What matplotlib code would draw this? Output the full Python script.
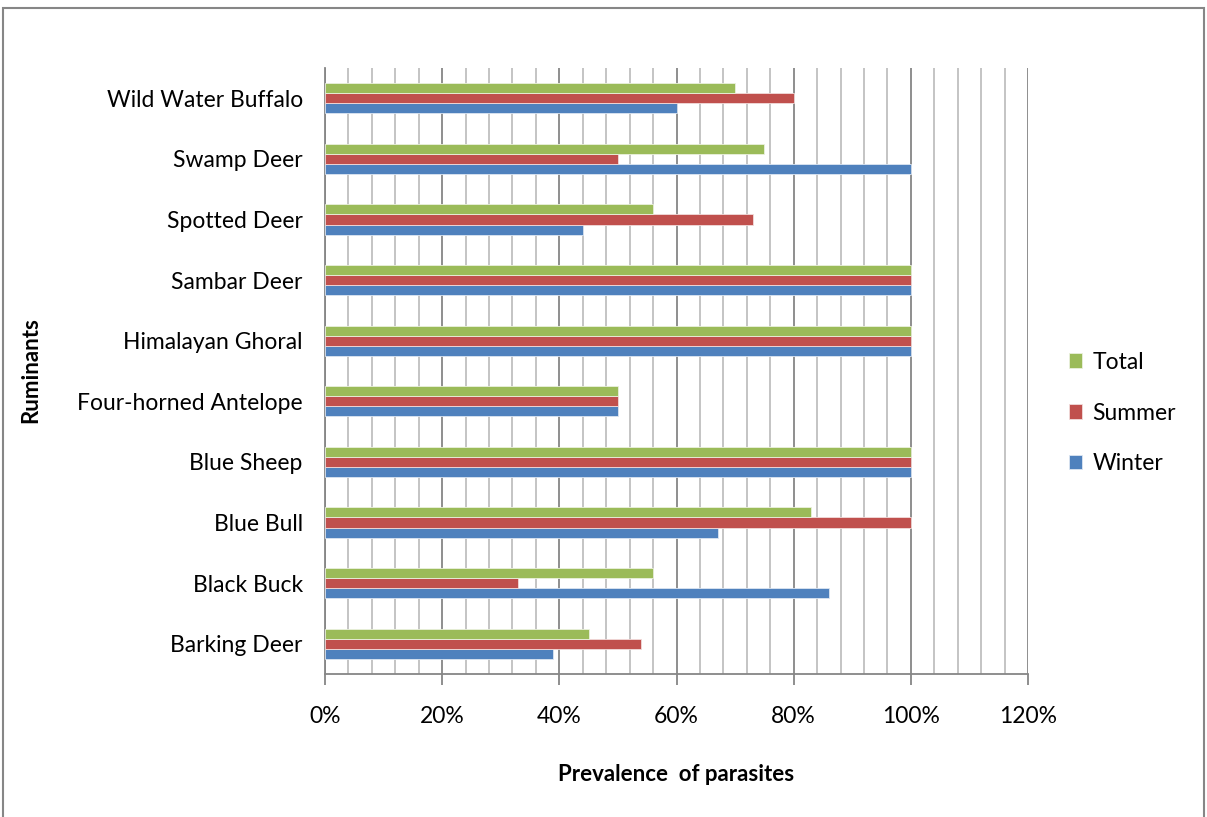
import matplotlib
matplotlib.use("Agg")
import matplotlib.pyplot as plt
import numpy as np
from matplotlib.patches import Rectangle
from matplotlib.ticker import MultipleLocator, FuncFormatter

categories = ["Barking Deer", "Black Buck", "Blue Bull", "Blue Sheep",
              "Four-horned Antelope", "Himalayan Ghoral", "Sambar Deer",
              "Spotted Deer", "Swamp Deer", "Wild Water Buffalo"]
winter = [39, 86, 67, 100, 50, 100, 100, 44, 100, 60]
summer = [54, 33, 100, 100, 50, 100, 100, 73, 50, 80]
total = [45, 56, 83, 100, 50, 100, 100, 56, 75, 70]

plt.rcParams['font.family'] = ['Lato', 'DejaVu Sans']

fig = plt.figure(figsize=(12.07, 8.17), dpi=100)
ax = fig.add_axes([325/1207, 1-674/817, (1028-325)/1207, (674-68)/817])

y = np.arange(len(categories))
h = 0.167
ax.barh(y - h, winter, height=h, color="#4F81BD", edgecolor="#DCE6F2", linewidth=0.6, label="Winter", zorder=3)
ax.barh(y, summer, height=h, color="#C0504D", edgecolor="#F2DCDB", linewidth=0.6, label="Summer", zorder=3)
ax.barh(y + h, total, height=h, color="#9BBB59", edgecolor="#EBF1DE", linewidth=0.6, label="Total", zorder=3)

ax.set_xlim(0, 120)
ax.set_ylim(-0.5, len(categories) - 0.5)
ax.xaxis.set_major_locator(MultipleLocator(20))
ax.xaxis.set_minor_locator(MultipleLocator(4))
ax.xaxis.set_major_formatter(FuncFormatter(lambda v, p: f"{int(round(v))}%"))
ax.grid(axis='x', which='major', color="#868686", linewidth=1.3, zorder=0)
ax.grid(axis='x', which='minor', color="#BFBFBF", linewidth=1.3, zorder=0)
ax.set_axisbelow(True)

ax.set_yticks(y)
ax.set_yticklabels(categories, fontsize=16.5)
ax.tick_params(axis='y', length=0, pad=16)
ax.tick_params(axis='x', which='major', length=8, width=1.3, color="#868686", labelsize=16.5, pad=15)
ax.tick_params(axis='x', which='minor', length=0)

for s in ['top', 'right']:
    ax.spines[s].set_visible(False)
ax.spines['left'].set_color("#868686")
ax.spines['left'].set_linewidth(1.3)
ax.spines['bottom'].set_color("#868686")
ax.spines['bottom'].set_linewidth(1.3)

ax.set_xlabel("Prevalence  of parasites", fontsize=16, fontweight='bold', labelpad=27)
fig.text(31/1207, 1-370/817, "Ruminants", rotation=90, fontsize=16, fontweight='bold',
         ha='center', va='center')

handles, labels = ax.get_legend_handles_labels()
leg = fig.legend(handles[::-1], labels[::-1], loc='center left',
                 bbox_to_anchor=(1048/1207, 1-413/817), frameon=False, fontsize=16.5,
                 handlelength=0.6, handleheight=0.6, labelspacing=1.3, handletextpad=0.45)

fig.patches.append(Rectangle((3/1207, -0.05), (1204-3)/1207, 1.05-8/817,
                             transform=fig.transFigure, fill=False,
                             edgecolor="#868686", linewidth=1.5))

fig.savefig("out.png", dpi=100)
